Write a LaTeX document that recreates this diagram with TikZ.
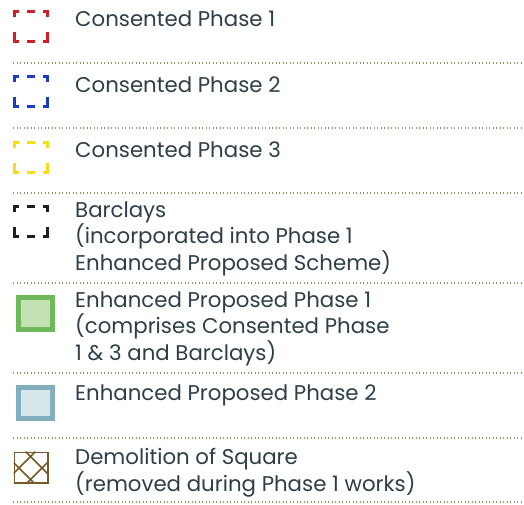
\documentclass[tikz,border=0pt]{standalone}
\usepackage{fontspec}
\setmainfont{Poppins}
\definecolor{txt}{RGB}{45,62,72}
\definecolor{dotc}{RGB}{160,145,100}
\definecolor{cred}{RGB}{210,30,40}
\definecolor{cblue}{RGB}{25,60,195}
\definecolor{cyel}{RGB}{250,220,20}
\definecolor{cblk}{RGB}{30,30,30}
\definecolor{gout}{RGB}{112,185,90}
\definecolor{gin}{RGB}{195,225,180}
\definecolor{bout}{RGB}{130,175,190}
\definecolor{bin}{RGB}{215,230,235}
\definecolor{brown}{RGB}{120,90,40}
\tikzset{
  lbl/.style={anchor=base west, inner sep=0pt, text=txt, font=\fontsize{21.3}{23.5}\selectfont, align=left},
  sep/.style={dotc, line width=1.3pt, dash pattern=on 1.3pt off 2.2pt},
  brk/.style={line width=2.6pt},
}
\newcommand{\brkicon}[2]{%
  \begin{scope}[shift={(0,#1)}, brk, draw=#2]
    \draw (14.3,7) -- (14.3,1.3) -- (19,1.3);
    \draw (27,1.3) -- (35,1.3);
    \draw (43,1.3) -- (47.7,1.3) -- (47.7,7);
    \draw (14.3,22) -- (14.3,31.7) -- (19,31.7);
    \draw (27,31.7) -- (35,31.7);
    \draw (43,31.7) -- (47.7,31.7) -- (47.7,22);
  \end{scope}}
\begin{document}
\begin{tikzpicture}[x=1pt,y=-1pt]
\useasboundingbox (0,0) rectangle (524,504);
% separators
\foreach \yy/\nm in {63/s1,128/s2,193/s3,283/s4,373/s5,438/s6,502/s7}{
  \coordinate (\nm a) at (13,\yy);
  \coordinate (\nm b) at (524,\yy);
  \draw[sep] (\nm a) -- (\nm b);
}
% bracket icons
\brkicon{10}{cred}
\brkicon{75}{cblue}
\brkicon{141}{cyel}
\brkicon{205}{cblk}
% filled squares
\node[draw=gout, fill=gin, line width=5pt, minimum width=34pt, minimum height=32pt, inner sep=0pt, anchor=north west] (g1) at (15.5,294.5) {};
\node[draw=bout, fill=bin, line width=5pt, minimum width=34pt, minimum height=31pt, inner sep=0pt, anchor=north west] (b1) at (15.5,384.5) {};
% demolition icon
\begin{scope}
  \clip (13.7,451.7) rectangle (47.3,482.3);
  \draw[brown, line width=1.7pt] (13.7+12,451.7) -- ++(40,40);
  \draw[brown, line width=1.7pt] (13.7,451.7+11) -- ++(40,40);
  \draw[brown, line width=1.7pt] (47.3-12,451.7) -- ++(-40,40);
  \draw[brown, line width=1.7pt] (47.3,451.7+11) -- ++(-40,40);
\end{scope}
\node[draw=brown, line width=1.5pt, minimum width=33.6pt, minimum height=30.6pt, inner sep=0pt, anchor=north west] (d1) at (13.7,451.7) {};
% labels (multi-line nodes anchored at the baseline of their last line)
\node[lbl] (t1) at (75,26) {Consented Phase 1};
\node[lbl] (t2) at (75,92) {Consented Phase 2};
\node[lbl] (t3) at (75,157) {Consented Phase 3};
\node[lbl] (t4) at (75,270) {Barclays\\(incorporated into Phase 1\\Enhanced Proposed Scheme)};
\node[lbl] (t5) at (75,360) {Enhanced Proposed Phase 1\\(comprises Consented Phase\\1 \& 3 and Barclays)};
\node[lbl] (t6) at (75,400) {Enhanced Proposed Phase 2};
\node[lbl] (t7) at (75,491) {Demolition of Square\\(removed during Phase 1 works)};
\end{tikzpicture}
\end{document}
